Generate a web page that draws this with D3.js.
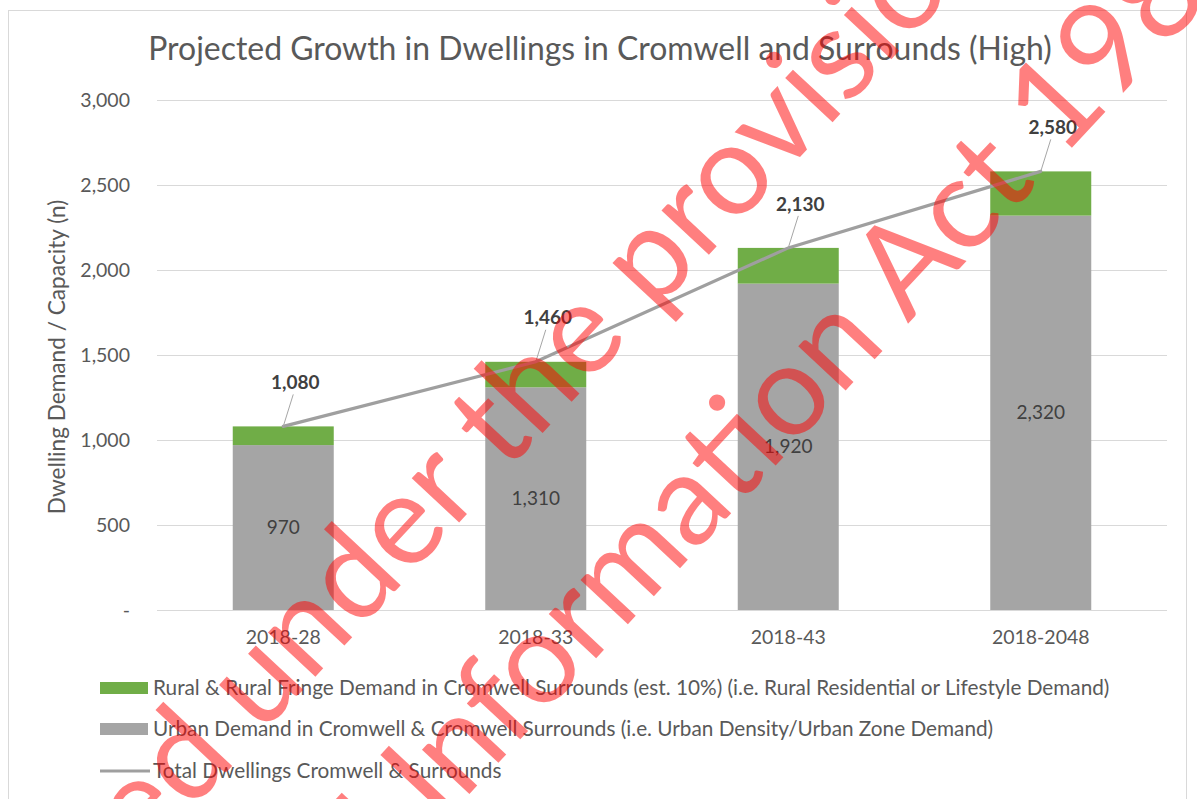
<!DOCTYPE html>
<html lang="en">
    <head>
        <meta charset="utf-8">
        <title>Projected Growth in Dwellings</title>
        <script type="text/javascript" src="https://d3js.org/d3.v7.min.js"></script>
        <style type="text/css">
            body {
                margin: 0;
                background-color: white;
            }
            text {
                font-family: Lato, "Open Sans", sans-serif;
            }
        </style>
    </head>
    <body>
        <svg width="1197" height="799" id="chart"></svg>

        <script type="text/javascript">

            // data
            const categories = ["2018-28", "2018-33", "2018-43", "2018-2048"];
            const urban = [970, 1310, 1920, 2320];
            const rural = [110, 150, 210, 260];
            const total = [1080, 1460, 2130, 2580];
            const yTicks = [0, 500, 1000, 1500, 2000, 2500, 3000];

            const legendNames = [
                "Rural & Rural Fringe Demand in Cromwell Surrounds (est. 10%) (i.e. Rural Residential or Lifestyle Demand)",
                "Urban Demand in Cromwell & Cromwell Surrounds (i.e. Urban Density/Urban Zone Demand)",
                "Total Dwellings Cromwell & Surrounds"
            ];
            const watermark = [
                "Released under the provisions of the",
                "Official Information Act 1982"
            ];

            const green = "#70AD47";
            const grey = "#A5A5A5";
            const textGrey = "#595959";
            const darkText = "#404040";

            const svg = d3.select("#chart");

            // chart frame
            svg.append("rect")
                .attr("x", 8.5).attr("y", 10.5)
                .attr("width", 1178).attr("height", 820)
                .attr("fill", "white")
                .attr("stroke", "#D9D9D9");

            // scales
            const x = d3.scaleBand()
                .domain(categories)
                .range([157, 1167])
                .paddingInner(0.6)
                .paddingOuter(0.3);

            const y = d3.scaleLinear()
                .domain([0, 3000])
                .range([610, 100]);

            const fmt = d3.format(",");

            // title
            const title = svg.append("text")
                .attr("x", 600)
                .attr("y", 60)
                .attr("text-anchor", "middle")
                .attr("font-size", 28)
                .attr("fill", textGrey)
                .text("Projected Growth in Dwellings in Cromwell and Surrounds (High)");
            fitText(title, 904);

            // gridlines + y axis labels
            const yAxis = d3.axisLeft(y)
                .tickValues(yTicks)
                .tickSize(-(1167 - 157))
                .tickPadding(27)
                .tickFormat(d => d === 0 ? "-" : fmt(d));

            const gy = svg.append("g")
                .attr("transform", "translate(157,0)")
                .call(yAxis);
            gy.select(".domain").remove();
            gy.selectAll(".tick line")
                .attr("stroke", "#D9D9D9")
                .attr("stroke-width", 1.2);
            gy.selectAll(".tick text")
                .attr("font-size", 19.5)
                .attr("font-family", "Lato, sans-serif")
                .attr("fill", textGrey);

            // y axis title
            const yTitle = svg.append("text")
                .attr("transform", "translate(57,357) rotate(-90)")
                .attr("text-anchor", "middle")
                .attr("dy", "0.35em")
                .attr("font-size", 18)
                .attr("fill", textGrey)
                .text("Dwelling Demand / Capacity (n)");
            fitText(yTitle, 315);

            // x axis labels
            svg.selectAll(".xlab")
                .data(categories)
                .enter()
                .append("text")
                .attr("class", "xlab")
                .attr("x", d => x(d) + x.bandwidth() / 2)
                .attr("y", 637)
                .attr("dy", "0.35em")
                .attr("text-anchor", "middle")
                .attr("font-size", 19.5)
                .attr("fill", textGrey)
                .text(d => d);

            // stacked bars: urban at bottom, rural on top
            svg.selectAll(".urban")
                .data(categories)
                .enter()
                .append("rect")
                .attr("class", "urban")
                .attr("x", d => x(d))
                .attr("width", x.bandwidth())
                .attr("y", (d, i) => y(urban[i]))
                .attr("height", (d, i) => y(0) - y(urban[i]))
                .attr("fill", grey);

            svg.selectAll(".rural")
                .data(categories)
                .enter()
                .append("rect")
                .attr("class", "rural")
                .attr("x", d => x(d))
                .attr("width", x.bandwidth())
                .attr("y", (d, i) => y(urban[i] + rural[i]))
                .attr("height", (d, i) => y(urban[i]) - y(urban[i] + rural[i]))
                .attr("fill", green);

            // urban value labels in the middle of the grey segment
            svg.selectAll(".ulab")
                .data(categories)
                .enter()
                .append("text")
                .attr("class", "ulab")
                .attr("x", d => x(d) + x.bandwidth() / 2)
                .attr("y", (d, i) => y(urban[i] / 2))
                .attr("dy", "0.35em")
                .attr("text-anchor", "middle")
                .attr("font-size", 19)
                .attr("fill", darkText)
                .text((d, i) => fmt(urban[i]));

            // total line
            const line = d3.line()
                .x((d, i) => x(categories[i]) + x.bandwidth() / 2)
                .y(d => y(d));

            svg.append("path")
                .datum(total)
                .attr("d", line)
                .attr("fill", "none")
                .attr("stroke", "#9F9F9F")
                .attr("stroke-width", 3.2)
                .attr("stroke-linecap", "round");

            // total labels with leader lines
            const labDx = 12, labDy = -44;
            svg.selectAll(".leader")
                .data(total)
                .enter()
                .append("line")
                .attr("class", "leader")
                .attr("x1", (d, i) => x(categories[i]) + x.bandwidth() / 2)
                .attr("y1", d => y(d))
                .attr("x2", (d, i) => x(categories[i]) + x.bandwidth() / 2 + labDx - 2)
                .attr("y2", d => y(d) + labDy + 12)
                .attr("stroke", "#A6A6A6")
                .attr("stroke-width", 1);

            svg.selectAll(".tlab")
                .data(total)
                .enter()
                .append("text")
                .attr("class", "tlab")
                .attr("x", (d, i) => x(categories[i]) + x.bandwidth() / 2 + labDx)
                .attr("y", d => y(d) + labDy)
                .attr("dy", "0.35em")
                .attr("text-anchor", "middle")
                .attr("font-size", 19)
                .attr("font-weight", "bold")
                .attr("fill", darkText)
                .text(d => fmt(d));

            // legend
            const legendY = [688, 729, 771];
            const legend = svg.selectAll(".leg")
                .data(legendNames)
                .enter()
                .append("g")
                .attr("class", "leg")
                .attr("transform", (d, i) => "translate(100," + legendY[i] + ")");

            legend.filter((d, i) => i < 2)
                .append("rect")
                .attr("x", 0)
                .attr("y", -6)
                .attr("width", 48)
                .attr("height", 12)
                .attr("fill", (d, i) => i === 0 ? green : grey);

            legend.filter((d, i) => i === 2)
                .append("line")
                .attr("x1", 0).attr("x2", 50)
                .attr("y1", 0).attr("y2", 0)
                .attr("stroke", "#9F9F9F")
                .attr("stroke-width", 3.2);

            const legendText = legend.append("text")
                .attr("x", 53)
                .attr("dy", "0.35em")
                .attr("font-size", 18)
                .attr("fill", textGrey)
                .text(d => d);

            // scale legend font so the longest row matches the picture
            const w0 = legendText.nodes()[0].getComputedTextLength();
            legendText.attr("font-size", 18 * 957 / w0);

            // watermark over the chart, rotated -47deg about (632,460)
            // each line is pinned by one letter: "d" of "under", "A" of "Act"
            const wmSize = 128;
            const wmPins = [
                {ch: 11, u: -276, v: -130.5 + 0.365 * wmSize},
                {ch: 21, u: 330, v: 63 + 0.358 * wmSize}
            ];
            const wm = svg.append("g")
                .attr("transform", "translate(632,460) rotate(-47)")
                .style("pointer-events", "none");

            wm.selectAll("text")
                .data(watermark)
                .enter()
                .append("text")
                .attr("x", 0)
                .attr("y", (d, i) => wmPins[i].v)
                .attr("text-anchor", "start")
                .attr("font-family", "'Liberation Sans', Arial, sans-serif")
                .attr("font-size", wmSize)
                .attr("fill", "#FF0000")
                .attr("fill-opacity", 0.5)
                .text(d => d)
                .each(function(d, i) {
                    const p = wmPins[i];
                    const before = p.ch > 0 ? this.getSubStringLength(0, p.ch) : 0;
                    const half = this.getSubStringLength(p.ch, 1) / 2;
                    d3.select(this).attr("x", p.u - before - half);
                });

            function fitText(sel, target) {
                const w = sel.node().getComputedTextLength();
                const fs = parseFloat(sel.attr("font-size"));
                sel.attr("font-size", fs * target / w);
            }

        </script>
    </body>
</html>
